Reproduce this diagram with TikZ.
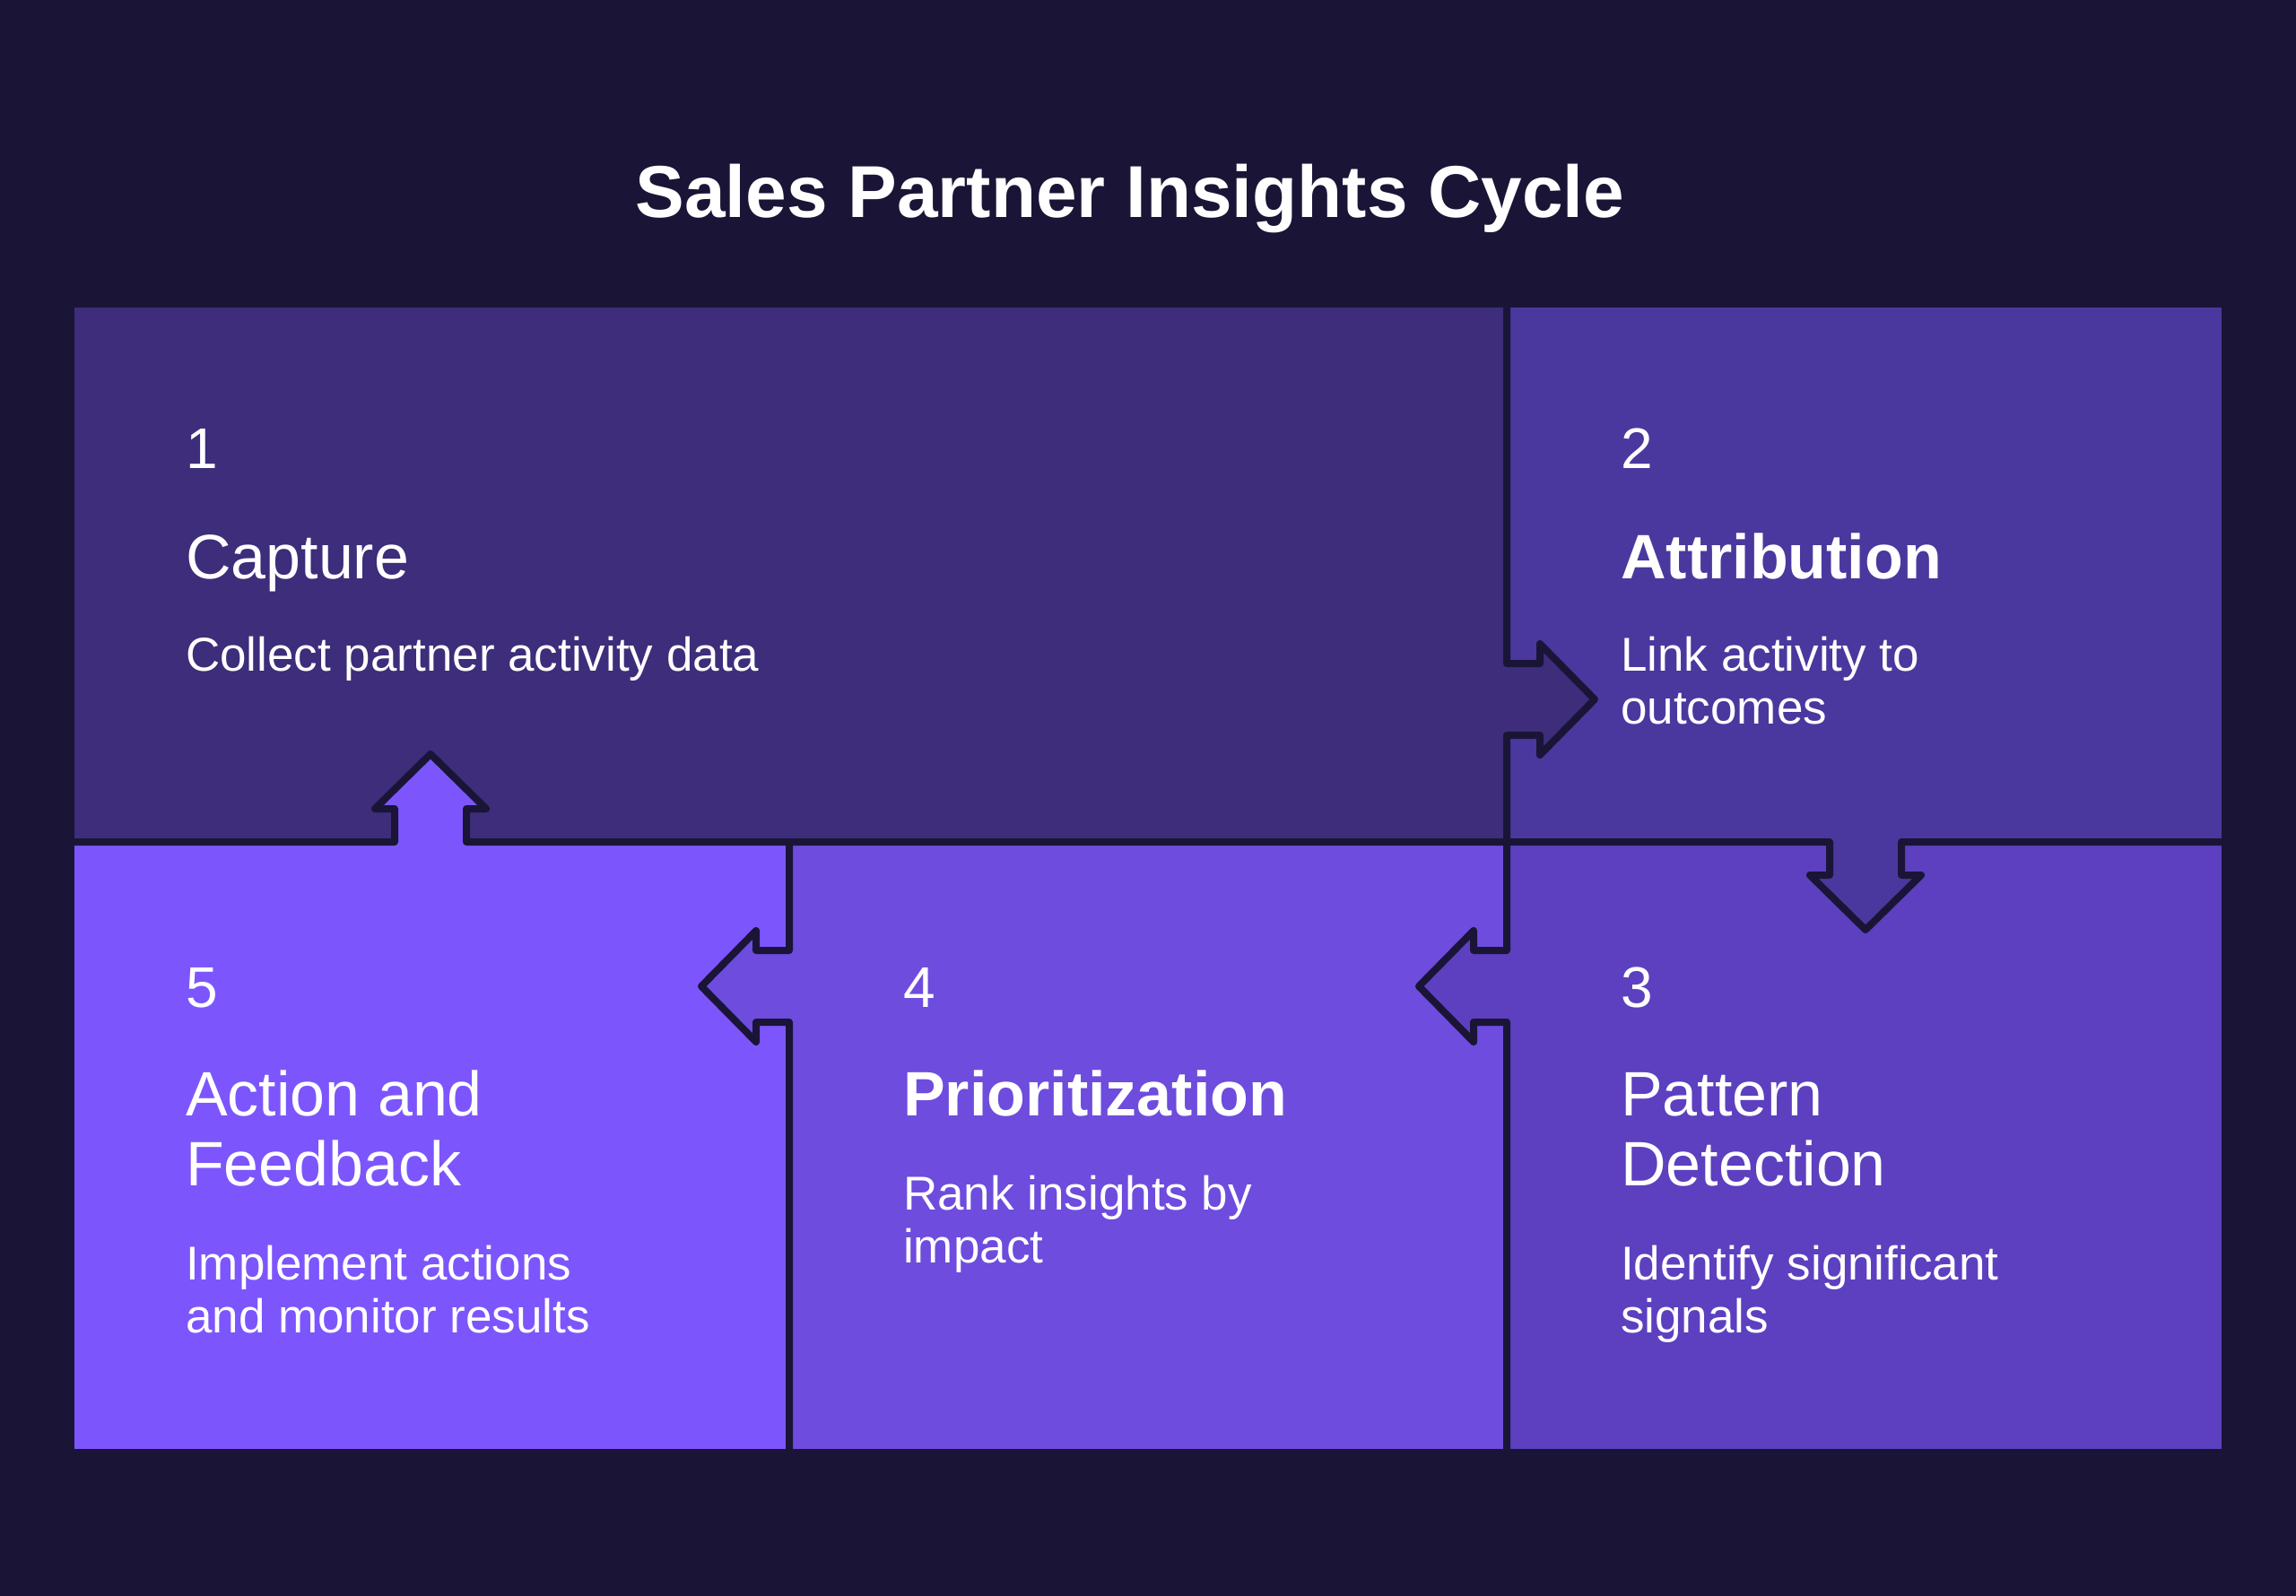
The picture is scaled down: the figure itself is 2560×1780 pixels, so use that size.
\documentclass[tikz,border=0pt]{standalone}
\usepackage{fontspec}
\setmainfont{Liberation Sans}
\usetikzlibrary{positioning}
\definecolor{bgdark}{HTML}{1A1536}
\definecolor{capturefill}{HTML}{3D2D7A}
\definecolor{attribfill}{HTML}{4A389E}
\definecolor{patternfill}{HTML}{5C40C0}
\definecolor{priofill}{HTML}{6D4CDE}
\definecolor{actionfill}{HTML}{7C56FC}
\tikzset{
stepnum/.style = {anchor=base west, inner sep=0pt, text=white, font=\fontsize{64}{70}\selectfont},
steptitle/.style = {anchor=base west, inner sep=0pt, text=white, align=left, font=\fontsize{70}{78}\selectfont},
steptitlebold/.style = {steptitle, font=\fontsize{70}{78}\selectfont\bfseries},
stepdesc/.style = {anchor=base west, inner sep=0pt, text=white, align=left, font=\fontsize{53}{59}\selectfont},
divider/.style = {draw=bgdark, line width=8pt, line join=round}
}
\begin{document}
\begin{tikzpicture}[x=1pt, y=-1pt]

\fill[bgdark] (0,0) rectangle (2560,1780);
\useasboundingbox (0,0) rectangle (2560,1780);

\node (title) [anchor=base, inner sep=0pt, text=white, font=\fontsize{82}{90}\selectfont\bfseries] at (1260,242) {Sales Partner Insights Cycle};

% panels
\fill[capturefill] (83,343) rectangle (1680,939);
\fill[attribfill] (1680,343) rectangle (2477,939);
\fill[patternfill] (1680,939) rectangle (2477,1616);
\fill[priofill] (880,939) rectangle (1680,1616);
\fill[actionfill] (83,939) rectangle (880,1616);

% arrow tabs
\fill[capturefill] (1680,740) -- (1717,740) -- (1717,718) -- (1778,780) -- (1717,842) -- (1717,820) -- (1680,820) -- cycle;
\fill[attribfill] (2040,939) -- (2040,976) -- (2018,976) -- (2080,1037) -- (2142,976) -- (2120,976) -- (2120,939) -- cycle;
\fill[patternfill] (1680,1060) -- (1643,1060) -- (1643,1038) -- (1582,1100) -- (1643,1162) -- (1643,1140) -- (1680,1140) -- cycle;
\fill[priofill] (880,1060) -- (843,1060) -- (843,1038) -- (782,1100) -- (843,1162) -- (843,1140) -- (880,1140) -- cycle;
\fill[actionfill] (440,939) -- (440,902) -- (418,902) -- (480,841) -- (542,902) -- (520,902) -- (520,939) -- cycle;

% dividers
\draw[divider] (1680,343) -- (1680,740) -- (1717,740) -- (1717,718) -- (1778,780) -- (1717,842) -- (1717,820) -- (1680,820)
  -- (1680,1060) -- (1643,1060) -- (1643,1038) -- (1582,1100) -- (1643,1162) -- (1643,1140) -- (1680,1140) -- (1680,1616);
\draw[divider] (880,939) -- (880,1060) -- (843,1060) -- (843,1038) -- (782,1100) -- (843,1162) -- (843,1140) -- (880,1140) -- (880,1616);
\draw[divider] (83,939) -- (440,939) -- (440,902) -- (418,902) -- (480,841) -- (542,902) -- (520,902) -- (520,939)
  -- (2040,939) -- (2040,976) -- (2018,976) -- (2080,1037) -- (2142,976) -- (2120,976) -- (2120,939) -- (2477,939);

% step texts (multi-line nodes sit on their last baseline)
\node (num1) [stepnum] at (207,522) {1};
\node (capture) [steptitle] at (207,645) {Capture};
\node (capturedesc) [stepdesc] at (207,748) {Collect partner activity data};

\node (num2) [stepnum] at (1807,522) {2};
\node (attrib) [steptitlebold] at (1807,645) {Attribution};
\node (attribdesc) [stepdesc] at (1807,807) {Link activity to\\outcomes};

\node (num3) [stepnum] at (1807,1123) {3};
\node (pattern) [steptitle] at (1807,1322) {Pattern\\Detection};
\node (patterndesc) [stepdesc] at (1807,1486) {Identify significant\\signals};

\node (num4) [stepnum] at (1007,1123) {4};
\node (prio) [steptitlebold] at (1007,1244) {Prioritization};
\node (priodesc) [stepdesc] at (1007,1408) {Rank insights by\\impact};

\node (num5) [stepnum] at (207,1123) {5};
\node (action) [steptitle] at (207,1322) {Action and\\Feedback};
\node (actiondesc) [stepdesc] at (207,1486) {Implement actions\\and monitor results};

\end{tikzpicture}
\end{document}
